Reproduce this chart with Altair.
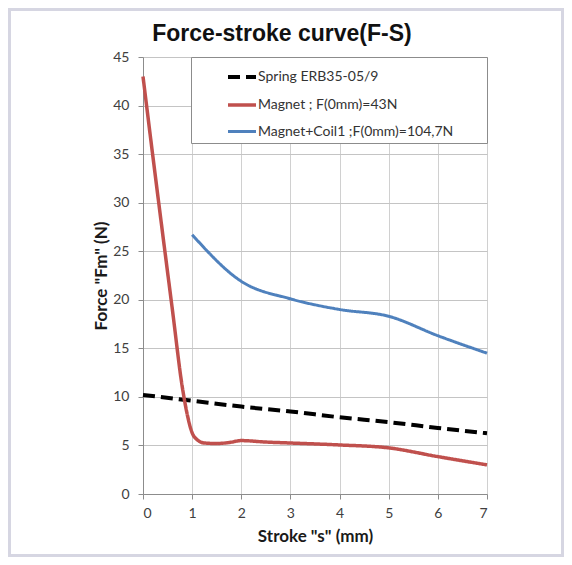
import altair as alt
import pandas as pd

# ---- data ----
series_names = ["Spring ERB35-05/9", "Magnet ; F(0mm)=43N", "Magnet+Coil1 ;F(0mm)=104,7N"]
series_colors = ["#000000", "#c0504d", "#4f81bd"]

spring_stroke = [0, 1, 2, 3, 4, 5, 6, 7]
spring_force = [10.2, 9.6, 9.0, 8.5, 7.9, 7.4, 6.8, 6.25]

magnet_stroke = [0, 0.2, 0.4, 0.6, 0.8, 0.9, 1.0, 1.1, 1.25, 1.5, 1.75, 2.0, 2.5, 3, 4, 5, 6, 7]
magnet_force = [43.0, 34.8, 26.8, 18.9, 11.0, 8.2, 6.3, 5.6, 5.25, 5.2, 5.3, 5.5, 5.35, 5.25, 5.05, 4.75, 3.85, 3.0]

coil_stroke = [1, 2, 3, 4, 5, 6, 7]
coil_force = [26.7, 21.9, 20.1, 19.0, 18.3, 16.3, 14.5]

x_ticks = [0, 1, 2, 3, 4, 5, 6, 7]
y_ticks = [0, 5, 10, 15, 20, 25, 30, 35, 40, 45]

rows = []
for name, xs, ys in [
    (series_names[0], spring_stroke, spring_force),
    (series_names[1], magnet_stroke, magnet_force),
    (series_names[2], coil_stroke, coil_force),
]:
    for i, (xv, yv) in enumerate(zip(xs, ys)):
        rows.append({"series": name, "s": xv, "F": yv, "order": i})
df = pd.DataFrame(rows)

FONT = "Lato"

lines = alt.Chart(df).mark_line(interpolate="monotone", strokeCap="butt").encode(
    x=alt.X("s:Q", scale=alt.Scale(domain=[0, 7], nice=False),
            axis=alt.Axis(values=x_ticks, title='Stroke "s" (mm)', gridColor="#d0d0d0",
                          labelPadding=7, titlePadding=8)),
    y=alt.Y("F:Q", scale=alt.Scale(domain=[0, 45], nice=False),
            axis=alt.Axis(values=y_ticks, title='Force "Fm" (N)', gridColor="#c4c4c4",
                          labelPadding=9, titlePadding=2)),
    color=alt.Color("series:N", scale=alt.Scale(domain=series_names, range=series_colors),
                    legend=alt.Legend(
                        title="\u00a0", titleOrient="right", titlePadding=30,
                        orient="none", legendX=48, legendY=0,
                        symbolType="stroke", symbolSize=784, symbolStrokeWidth=3.5,
                        symbolOffset=31, labelOffset=0, rowPadding=4, padding=4,
                        labelFontSize=14, labelColor="#333333", labelFont=FONT,
                        fillColor="#ffffff", strokeColor="#8c8c8c", labelLimit=400)),
    strokeDash=alt.StrokeDash("series:N",
                              scale=alt.Scale(domain=series_names, range=[[12, 6], [1, 0], [1, 0]]),
                              legend=alt.Legend(title="\u00a0")),
    strokeWidth=alt.StrokeWidth("series:N", scale=alt.Scale(domain=series_names, range=[4, 3, 3]),
                                legend=None),
    order="order:Q",
)

frame = alt.Chart(pd.DataFrame({"k": [0]})).mark_rect(
    fillOpacity=0, stroke="#d6d6e2", strokeWidth=3
).encode(
    x=alt.value(-133.5), x2=alt.value(419.5), y=alt.value(-47.5), y2=alt.value(498.5)
)

chart = alt.layer(lines, frame).properties(
    width=344, height=437,
    background="#ffffff",
    autosize=alt.AutoSizeParams(type="none"),
    padding={"left": 135, "top": 49, "right": 77, "bottom": 63},
    title=alt.TitleParams("Force-stroke curve(F-S)", fontSize=23, fontWeight="bold",
                          font="Liberation Sans", color="#111111", anchor="middle",
                          frame="group", baseline="alphabetic", offset=0, dx=-33, dy=56),
).configure_axis(
    labelFont=FONT, labelFontSize=14, labelColor="#404040",
    titleFont=FONT, titleFontSize=17, titleFontWeight="bold", titleColor="#1a1a1a",
    tickColor="#8c8c8c", domainColor="#8c8c8c", tickSize=5,
    gridWidth=1,
).configure_view(stroke=None)

chart.save("out.html", embed_options={"renderer": "svg", "actions": False})
